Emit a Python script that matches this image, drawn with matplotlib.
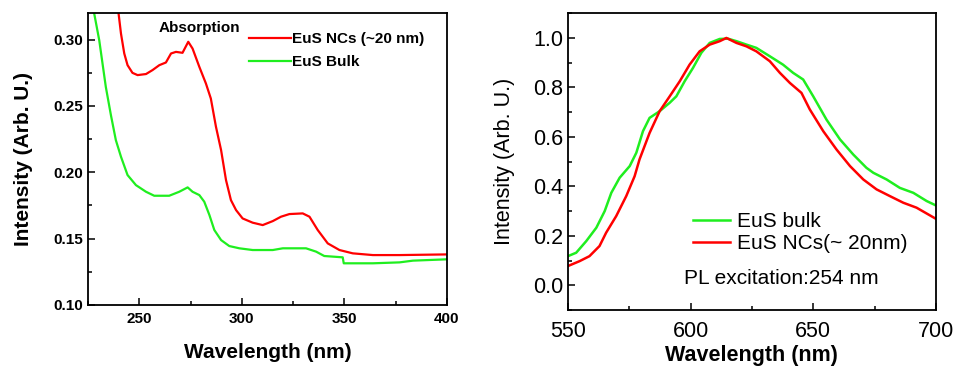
import numpy as np
import matplotlib
matplotlib.use("Agg")
import matplotlib.pyplot as plt
from matplotlib.ticker import MultipleLocator

plt.rcParams['font.family'] = ['Liberation Sans', 'DejaVu Sans']

# --- absorption spectra (left) ---
abs_nc_x = [239.9, 241.1, 242.7, 244.3, 246.7, 249.2, 253.3, 256.5, 259.8, 263.0, 265.5, 267.9,
            271.1, 273.9, 276.0, 279.3, 282.5, 284.9, 287.4, 289.9, 292.3, 294.7, 297.2, 300.4,
            305.3, 310.2, 315.1, 319.1, 323.2, 329.7, 333.0, 337.0, 341.9, 347.6, 354.1, 363.9,
            376.9, 400.0]
abs_nc_y = [0.320, 0.3045, 0.2895, 0.2807, 0.2749, 0.2732, 0.2740, 0.2770, 0.2807, 0.2827, 0.2895, 0.2907,
            0.2900, 0.2983, 0.2932, 0.2794, 0.2669, 0.2556, 0.2343, 0.2167, 0.1941, 0.1790, 0.1715, 0.1652,
            0.1620, 0.1602, 0.1632, 0.1665, 0.1685, 0.1690, 0.1665, 0.1565, 0.1464, 0.1414, 0.1389, 0.1376,
            0.1376, 0.1381]

abs_bulk_x = [228.0, 230.5, 233.7, 236.2, 238.6, 241.1, 244.3, 248.4, 253.3, 257.3, 264.6, 269.5,
              273.6, 276.0, 279.3, 281.7, 284.2, 286.6, 289.9, 293.9, 298.8, 305.3, 315.1, 320.0,
              331.3, 336.2, 340.2, 349.2, 349.7, 363.9, 376.9, 383.4, 400.0]
abs_bulk_y = [0.320, 0.2995, 0.2644, 0.2430, 0.2242, 0.2117, 0.1979, 0.1903, 0.1853, 0.1823, 0.1823, 0.1853,
              0.1886, 0.1853, 0.1828, 0.1778, 0.1678, 0.1565, 0.1489, 0.1444, 0.1427, 0.1414, 0.1414, 0.1427,
              0.1427, 0.1402, 0.1369, 0.1359, 0.1314, 0.1314, 0.1321, 0.1334, 0.1344]

# --- PL spectra (right) ---
pl_bulk_x = [550.0, 553.4, 557.5, 561.6, 565.0, 567.7, 571.1, 575.2, 577.9, 580.6, 583.3, 587.4,
             591.5, 594.2, 597.6, 601.0, 604.4, 607.8, 611.9, 615.3, 618.7, 622.8, 626.8, 632.3,
             637.7, 641.8, 645.9, 650.0, 655.4, 660.9, 666.3, 671.7, 674.5, 679.9, 685.3, 690.8,
             696.2, 700.0]
pl_bulk_y = [0.118, 0.132, 0.179, 0.233, 0.300, 0.374, 0.435, 0.482, 0.536, 0.623, 0.677, 0.704,
             0.738, 0.764, 0.825, 0.879, 0.940, 0.980, 0.996, 0.997, 0.987, 0.973, 0.960, 0.926,
             0.892, 0.859, 0.832, 0.764, 0.670, 0.590, 0.529, 0.475, 0.455, 0.428, 0.394, 0.374,
             0.341, 0.323]

pl_nc_x = [550.0, 554.8, 558.8, 562.9, 565.6, 569.7, 573.8, 577.2, 579.2, 583.3, 587.4, 591.5,
           595.6, 599.6, 603.7, 607.8, 611.9, 614.6, 618.7, 622.8, 626.8, 632.3, 636.4, 640.5,
           645.2, 648.6, 654.1, 659.5, 665.0, 670.4, 675.8, 681.2, 686.7, 692.1, 700.0]
pl_nc_y = [0.078, 0.098, 0.118, 0.159, 0.213, 0.280, 0.361, 0.441, 0.509, 0.616, 0.704, 0.764,
           0.825, 0.892, 0.946, 0.973, 0.987, 1.000, 0.980, 0.966, 0.946, 0.906, 0.859, 0.818,
           0.778, 0.711, 0.623, 0.549, 0.482, 0.428, 0.388, 0.361, 0.334, 0.314, 0.269]

RED = '#ff0000'
GREEN = '#1fee1f'

fig = plt.figure(figsize=(9.56, 3.67), dpi=100)
ax1 = fig.add_axes([0.092, 0.169, 0.3755, 0.7956])
ax2 = fig.add_axes([0.594, 0.155, 0.385, 0.809])

for ax in (ax1, ax2):
    for sp in ax.spines.values():
        sp.set_linewidth(1.3)
    ax.tick_params(which='both', direction='in', width=1.1)
    ax.tick_params(which='major', length=5)
    ax.tick_params(which='minor', length=3)

# left panel
ax1.plot(abs_nc_x, abs_nc_y, color=RED, lw=1.6, label='EuS NCs (~20 nm)')
ax1.plot(abs_bulk_x, abs_bulk_y, color=GREEN, lw=1.6, label='EuS Bulk')
ax1.set_xlim(225, 400)
ax1.set_ylim(0.10, 0.32)
ax1.xaxis.set_major_locator(MultipleLocator(50))
ax1.xaxis.set_minor_locator(MultipleLocator(25))
ax1.yaxis.set_major_locator(MultipleLocator(0.05))
ax1.yaxis.set_minor_locator(MultipleLocator(0.025))
ax1.yaxis.set_major_formatter(matplotlib.ticker.FormatStrFormatter('%.2f'))
ax1.tick_params(axis='x', pad=5)
for lab in ax1.get_xticklabels() + ax1.get_yticklabels():
    lab.set_fontsize(11)
    lab.set_fontweight('bold')
ax1.set_xlabel('Wavelength (nm)', fontsize=15, fontweight='bold', labelpad=12)
ax1.set_ylabel('Intensity (Arb. U.)', fontsize=15, fontweight='bold', labelpad=15)
ax1.text(0.31, 0.95, 'Absorption', transform=ax1.transAxes, fontsize=11,
         fontweight='bold', ha='center', va='center')
leg1 = ax1.legend(loc='upper left', bbox_to_anchor=(0.42, 0.97), frameon=False,
                  prop={'size': 11, 'weight': 'bold'}, handlelength=2.7,
                  handletextpad=0.1, labelspacing=0.55, borderpad=0.2)

# right panel
ax2.plot(pl_bulk_x, pl_bulk_y, color=GREEN, lw=1.8, label='EuS bulk')
ax2.plot(pl_nc_x, pl_nc_y, color=RED, lw=1.8, label='EuS NCs(~ 20nm)')
ax2.set_xlim(550, 700)
ax2.set_ylim(-0.1, 1.1)
ax2.xaxis.set_major_locator(MultipleLocator(50))
ax2.xaxis.set_minor_locator(MultipleLocator(25))
ax2.yaxis.set_major_locator(MultipleLocator(0.2))
ax2.yaxis.set_minor_locator(MultipleLocator(0.1))
ax2.yaxis.set_major_formatter(matplotlib.ticker.FormatStrFormatter('%.1f'))
ax2.tick_params(labelsize=15.5)
ax2.tick_params(axis='x', pad=8)
ax2.set_xlabel('Wavelength (nm)', fontsize=15.5, fontweight='bold', labelpad=2)
ax2.set_ylabel('Intensity (Arb. U.)', fontsize=15.5, labelpad=13)
leg2 = ax2.legend(loc='upper left', bbox_to_anchor=(0.3, 0.38), frameon=False,
                  prop={'size': 15}, handlelength=1.8, handletextpad=0.3,
                  labelspacing=0.15, borderpad=0.2)
ax2.text(0.315, 0.105, 'PL excitation:254 nm', transform=ax2.transAxes,
         fontsize=15, ha='left', va='center')

fig.savefig('out.png', dpi=100)
